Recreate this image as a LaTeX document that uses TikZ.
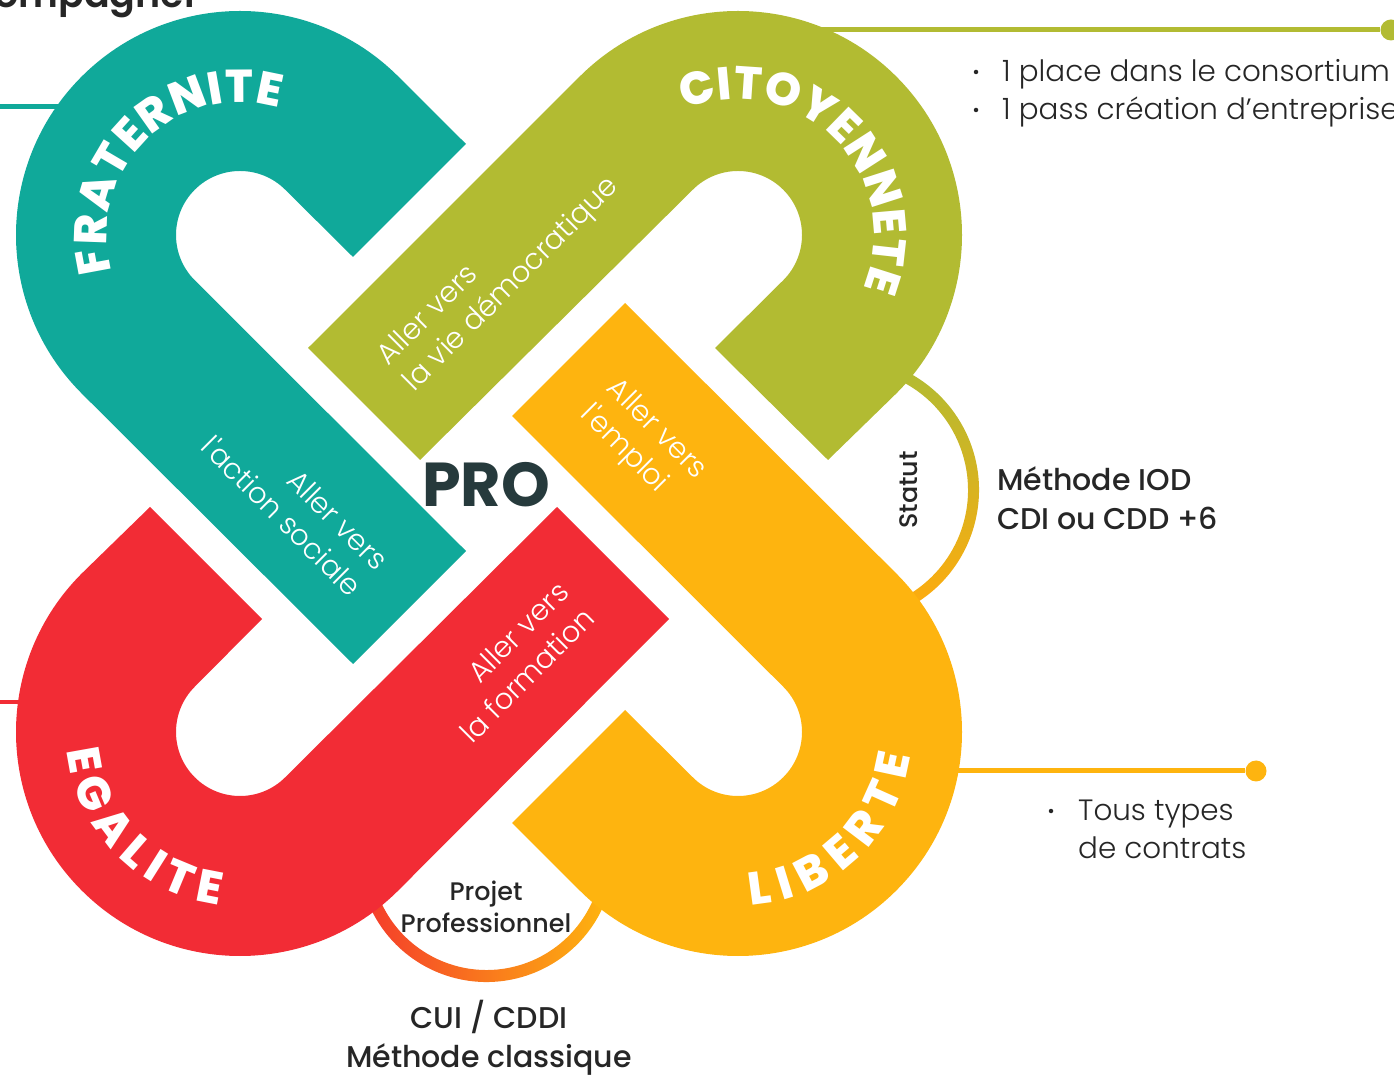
\documentclass[tikz,border=0pt]{standalone}
\usepackage{fontspec}
\setmainfont{Poppins}
\newfontfamily\lightfont{Poppins Light}
\newfontfamily\mediumfont{Poppins Medium}
\newfontfamily\semifont{Poppins SemiBold}
\newfontfamily\heavyfont{Poppins ExtraBold}
\usetikzlibrary{calc,decorations.text}

\definecolor{tealband}{HTML}{10A99A}
\definecolor{greenband}{HTML}{B2BB32}
\definecolor{redband}{HTML}{F22C35}
\definecolor{yellowband}{HTML}{FEB40F}
\definecolor{darktext}{HTML}{262626}
\definecolor{protext}{HTML}{263A3C}

\tikzset{
	armlabel/.style={text=white, font=\lightfont\fontsize{29}{37}\selectfont, inner sep=0pt},
	sidelabel/.style={text=darktext, font=\lightfont\fontsize{29.4}{38}\selectfont, align=left, anchor=west, inner sep=0pt},
	boldlabel/.style={text=darktext, font=\mediumfont\fontsize{30}{39}\selectfont, inner sep=0pt},
	smallbold/.style={text=darktext, font=\mediumfont\fontsize{25.4}{32}\selectfont, inner sep=0pt},
	bulletmark/.style={fill=darktext, circle, inner sep=0pt, minimum size=4.5pt},
	enddot/.style={circle, inner sep=0pt, minimum size=21pt},
	bandname/.style={decorate, decoration={text along path, text align={fit to path}, text={|\heavyfont\fontsize{46}{46}\selectfont\color{white}|#1}}},
}

\begin{document}
\begin{tikzpicture}[x=1pt, y=1pt]
	\useasboundingbox (0,0) rectangle (1394,1074);
	\clip (0,0) rectangle (1394,1074);

	\coordinate (cteal) at (240,839);
	\coordinate (cgreen) at (738,839);
	\coordinate (cyellow) at (738,342);
	\coordinate (cred) at (240,342);

	% leader lines
	\node[enddot, fill=greenband] (dotgreen) at (1391,1044) {};
	\node[enddot, fill=yellowband] (dotyellow) at (1256,303) {};
	\coordinate (startgreen) at (810,1044);
	\coordinate (startyellow) at (940,303);
	\coordinate (startteal) at (70,967.5);
	\coordinate (endteal) at (0,967.5);
	\coordinate (startred) at (30,372);
	\coordinate (endred) at (0,372);
	\draw[greenband, line width=5pt] (startgreen) -- (dotgreen);
	\draw[yellowband, line width=5pt] (startyellow) -- (dotyellow);
	\draw[tealband, line width=4.5pt] (startteal) -- (endteal);
	\draw[redband, line width=4.5pt] (startred) -- (endred);

	% joining arcs
	\shade[top color=greenband, bottom color=yellowband!95!red]
		(846,584) ++(66:122) arc[start angle=66, end angle=-62, radius=122]
		-- ++(-62:11) arc[start angle=-62, end angle=66, radius=133] -- cycle;
	\shade[left color=redband!80!orange, right color=yellowband]
		(486.5,220) ++(200:116) arc[start angle=200, end angle=340, radius=116]
		-- ++(340:12) arc[start angle=340, end angle=200, radius=128] -- cycle;

	% bands
	\fill[tealband] (466,930) -- ($(cteal)+(45:224)$) arc[start angle=45, end angle=225, radius=224]
		-- (353,410) -- (466,523) -- ($(cteal)+(225:64)$) arc[start angle=225, end angle=45, radius=64]
		-- (353,817) -- cycle;
	\fill[greenband] (308,726) -- ($(cgreen)+(135:224)$) arc[start angle=135, end angle=-45, radius=224]
		-- (828,614) -- (715,726) -- ($(cgreen)+(-45:64)$) arc[start angle=-45, end angle=135, radius=64]
		-- (420,614) -- cycle;
	\fill[yellowband] (625,771) -- ($(cyellow)+(45:224)$) arc[start angle=45, end angle=-135, radius=224]
		-- (512,251) -- (625,364) -- ($(cyellow)+(-135:64)$) arc[start angle=-135, end angle=45, radius=64]
		-- (512,658) -- cycle;
	\fill[redband] (150,567) -- ($(cred)+(135:224)$) arc[start angle=135, end angle=315, radius=224]
		-- (669,455) -- (557,567) -- ($(cred)+(315:64)$) arc[start angle=315, end angle=135, radius=64]
		-- (262,455) -- cycle;

	% names along the bands
	\path[bandname=FRATERNITE] ($(cteal)+(196:133)$) arc[start angle=196, end angle=73, radius=133];
	\path[bandname=CITOYENNETE] ($(cgreen)+(113:136)$) arc[start angle=113, end angle=-23, radius=136];
	\path[bandname=EGALITE] ($(cred)+(186:174)$) arc[start angle=186, end angle=263, radius=174];
	\path[bandname=LIBERTE] ($(cyellow)+(274:174)$) arc[start angle=274, end angle=352, radius=174];

	% labels on the arms
	\node[armlabel, rotate=45, align=left] (armgreen) at (499,802) {Aller vers\\la vie démocratique};
	\node[armlabel, rotate=-45, align=right] (armteal) at (295,571) {Aller vers\\l'action sociale};
	\node[armlabel, rotate=-45, align=left] (armyellow) at (643,631) {Aller vers\\l'emploi};
	\node[armlabel, rotate=45, align=right] (armred) at (514,412) {Aller vers\\la formation};

	\node[text=protext, font=\bfseries\fontsize{62}{62}\selectfont, inner sep=0pt] (pro) at (486,589) {PRO};
	\node[text=darktext, font=\semifont\fontsize{38}{38}\selectfont, anchor=base west, inner sep=0pt] (head) at (-6,1066) {ompagner};

	% texts round the knot
	\node[bulletmark] (bulleta) at (976,1002) {};
	\node[bulletmark] (bulletb) at (976,964) {};
	\node[sidelabel] (placetxt) at (1002,981) {1 place dans le consortium\\1 pass création d’entreprise};
	\node[bulletmark] (bulletc) at (1051,263) {};
	\node[sidelabel] (typestxt) at (1078,245) {Tous types\\de contrats};
	\node[boldlabel, align=left, anchor=west] (iodtxt) at (997,576) {Méthode IOD\\CDI ou CDD +6};
	\node[smallbold, rotate=90] (statut) at (909,584) {Statut};
	\node[smallbold, align=center] (projet) at (486,167) {Projet\\Professionnel};
	\node[boldlabel, align=center] (cuitxt) at (489,36) {CUI / CDDI\\Méthode classique};
\end{tikzpicture}
\end{document}
